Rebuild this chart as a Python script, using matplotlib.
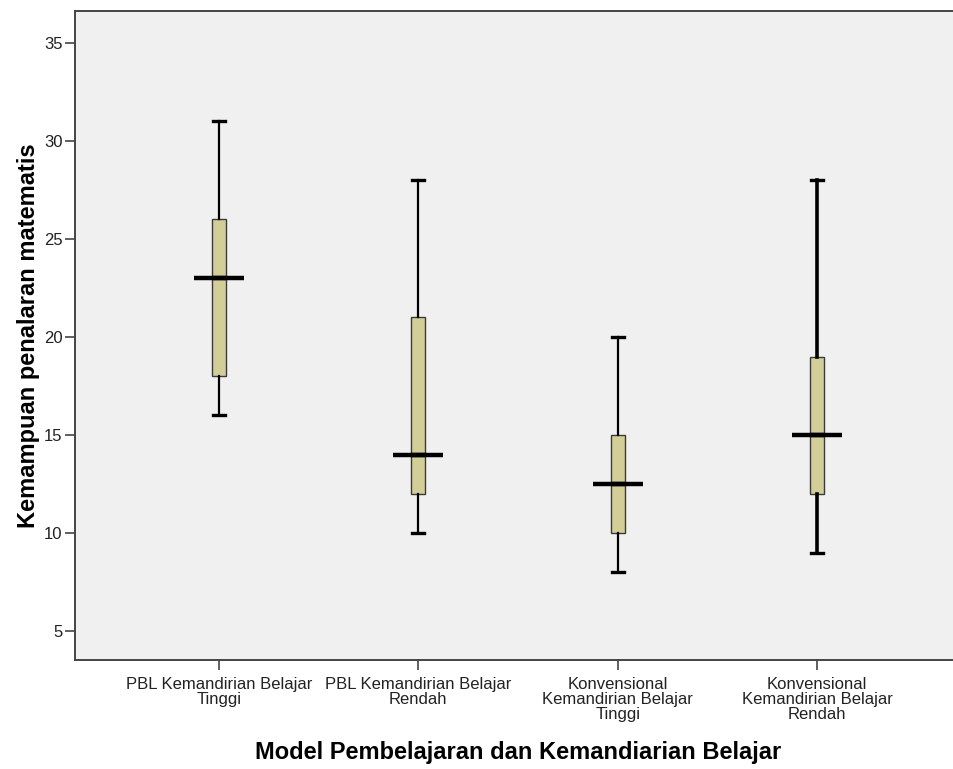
import matplotlib
matplotlib.use("Agg")
import matplotlib.pyplot as plt

categories = ["PBL Kemandirian Belajar\nTinggi",
              "PBL Kemandirian Belajar\nRendah",
              "Konvensional\nKemandirian Belajar\nTinggi",
              "Konvensional\nKemandirian Belajar\nRendah"]
whisker_low = [16, 10, 8, 9]
q1 = [18, 12, 10, 12]
median = [23, 14, 12.5, 15]
q3 = [26, 21, 15, 19]
whisker_high = [31, 28, 20, 28]
yticks = [5, 10, 15, 20, 25, 30, 35]

plt.rcParams['font.family'] = ['Liberation Sans', 'DejaVu Sans']

fig = plt.figure(figsize=(9.54, 7.69), dpi=100)
ax = fig.add_axes([75/954, 1-660/769, (961-75)/954, (660-11)/769])
ax.set_facecolor('#F0F0F0')

stats = []
for i in range(len(categories)):
    stats.append(dict(whislo=whisker_low[i], q1=q1[i], med=median[i],
                      q3=q3[i], whishi=whisker_high[i], fliers=[]))

positions = list(range(1, len(categories) + 1))
res = ax.bxp(stats, positions=positions, widths=0.07, patch_artist=True,
             showfliers=False,
             boxprops=dict(facecolor='#D3CE98', edgecolor='#3a3a3a', linewidth=1.0),
             whiskerprops=dict(color='black', linewidth=1.6),
             capprops=dict(color='black', linewidth=2.4),
             medianprops=dict(color='black', linewidth=3.2),
             capwidths=0.062)
# last group drawn with heavier whiskers as in the reference
for w in res['whiskers'][6:8]:
    w.set_linewidth(2.6)

ax.set_xlim(0.278, 4.722)
ax.set_ylim(3.52, 36.63)
ax.set_yticks(yticks)
ax.set_yticklabels([str(t) for t in yticks])
ax.set_xticks(positions)
ax.set_xticklabels(categories, linespacing=1.0)

for s in ['left', 'bottom', 'top']:
    ax.spines[s].set_color('#444444')
    ax.spines[s].set_linewidth(1.4)
ax.spines['right'].set_visible(False)

ax.tick_params(axis='both', direction='out', length=7, width=1.2,
               color='#444444', labelcolor='#222222', labelsize=12)
ax.tick_params(axis='x', pad=5)
ax.tick_params(axis='y', pad=2)

ax.set_ylabel('Kemampuan penalaran matematis', fontsize=17,
              fontweight='bold', labelpad=3)
ax.set_xlabel('Model Pembelajaran dan Kemandiarian Belajar', fontsize=17,
              fontweight='bold', labelpad=14)

# SPSS-style wide median lines
for i, m in enumerate(median):
    ax.plot([positions[i] - 0.125, positions[i] + 0.125], [m, m],
            color='black', linewidth=3.2, solid_capstyle='butt', zorder=5)

fig.savefig('out.png', dpi=100)
